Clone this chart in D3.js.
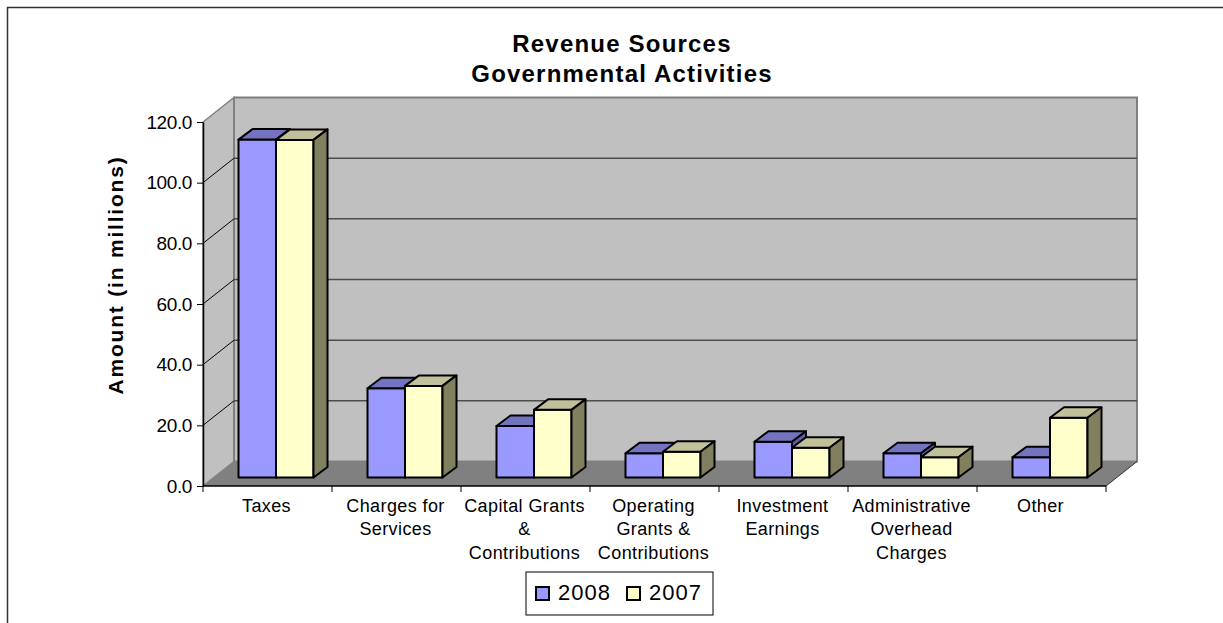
<!DOCTYPE html>
<html>
<head>
<meta charset="utf-8">
<script src="https://cdn.jsdelivr.net/npm/d3@7/dist/d3.min.js"></script>
<style>
  html, body { margin: 0; padding: 0; background: #fff; }
  svg { display: block; font-family: "Liberation Sans", Arial, sans-serif; }
</style>
</head>
<body>
<script>
// Revenue sources, governmental activities (amounts in millions)
const categories = [
  "Taxes",
  "Charges for\nServices",
  "Capital Grants\n&\nContributions",
  "Operating\nGrants &\nContributions",
  "Investment\nEarnings",
  "Administrative\nOverhead\nCharges",
  "Other"
];
const seriesNames = ["2008", "2007"];
const values2008 = [111.4, 29.4, 17.0, 8.0, 11.8, 8.0, 6.7];
const values2007 = [111.3, 30.2, 22.3, 8.5, 9.8, 6.7, 19.7];
const yTicks = [0, 20, 40, 60, 80, 100, 120];

const W = 1223, H = 623;
const svg = d3.select("body").append("svg").attr("width", W).attr("height", H);

// outer chart border
svg.append("rect").attr("x", 7.5).attr("y", 7.5).attr("width", 1240).attr("height", 640)
  .attr("fill", "#fff").attr("stroke", "#333").attr("stroke-width", 1.5);

// plot frame: front axis span and oblique depth of the 3-D box
const left = 203, right = 1106;
const D = { dx: 31, dy: -24.5 };        // wall depth
const F = { dx: 8.5, dy: -8.5 };        // bar front-face offset into the floor
const B = { dx: 14, dy: -10.5 };        // bar depth

const y = d3.scaleLinear().domain([0, 120]).range([486, 122]);
const x = d3.scaleBand().domain(d3.range(categories.length)).range([left, right]);
const xs = d3.scaleBand().domain(seriesNames).range([0, x.bandwidth()]).paddingOuter(0.72);

const fills = {
  "2008": { front: "#9999ff", top: "#7373c0", side: "#5c5ca3" },
  "2007": { front: "#ffffcc", top: "#c0c09a", side: "#80805f" }
};

const y0 = y(0), yTop = y(120);

// side wall
svg.append("path")
  .attr("d", `M${left},${y0}L${left},${yTop}L${left + D.dx},${yTop + D.dy}L${left + D.dx},${y0 + D.dy}Z`)
  .attr("fill", "#c0c0c0").attr("stroke", "#808080").attr("stroke-width", 1.5);

// back wall
svg.append("rect")
  .attr("x", left + D.dx).attr("y", yTop + D.dy)
  .attr("width", right - left).attr("height", y0 - yTop)
  .attr("fill", "#c0c0c0").attr("stroke", "#808080").attr("stroke-width", 2);

// gridlines on back wall and side wall
const inner = yTicks.filter(t => t > 0 && t < 120);
svg.append("g").selectAll("line").data(inner).join("line")
  .attr("x1", left + D.dx).attr("x2", right + D.dx)
  .attr("y1", d => y(d) + D.dy).attr("y2", d => y(d) + D.dy)
  .attr("stroke", "#4d4d4d").attr("stroke-width", 1.5);
svg.append("g").selectAll("line").data(inner).join("line")
  .attr("x1", left).attr("x2", left + D.dx)
  .attr("y1", d => y(d)).attr("y2", d => y(d) + D.dy)
  .attr("stroke", "#000").attr("stroke-width", 1);

// floor
svg.append("path")
  .attr("d", `M${left},${y0}L${right},${y0}L${right + D.dx},${y0 + D.dy}L${left + D.dx},${y0 + D.dy}Z`)
  .attr("fill", "#808080");
svg.append("line")
  .attr("x1", right).attr("y1", y0).attr("x2", right + D.dx).attr("y2", y0 + D.dy)
  .attr("stroke", "#333").attr("stroke-width", 1);

// bars
const data = categories.map((c, i) => ({
  i,
  items: [
    { s: "2008", v: values2008[i] },
    { s: "2007", v: values2007[i] }
  ]
}));
const barG = svg.append("g").attr("stroke", "#000").attr("stroke-width", 2).attr("stroke-linejoin", "round");
data.forEach(cat => {
  cat.items.forEach(it => {
    const bx = x(cat.i) + xs(it.s) + F.dx;
    const bw = xs.bandwidth();
    const top = y(it.v) + F.dy;
    const bot = y(0) + F.dy;
    const g = barG.append("g");
    g.append("rect").attr("x", bx).attr("y", top).attr("width", bw).attr("height", bot - top)
      .attr("fill", fills[it.s].front);
    g.append("path")
      .attr("d", `M${bx},${top}L${bx + bw},${top}L${bx + bw + B.dx},${top + B.dy}L${bx + B.dx},${top + B.dy}Z`)
      .attr("fill", fills[it.s].top);
    g.append("path")
      .attr("d", `M${bx + bw},${top}L${bx + bw + B.dx},${top + B.dy}L${bx + bw + B.dx},${bot + B.dy}L${bx + bw},${bot}Z`)
      .attr("fill", fills[it.s].side);
  });
});

// value axis
const yAxis = svg.append("g").attr("transform", `translate(${left},0)`)
  .call(d3.axisLeft(y).tickValues(yTicks).tickFormat(d3.format(".1f")).tickSize(6).tickSizeOuter(0).tickPadding(5));
yAxis.select(".domain").attr("stroke", "#000").attr("stroke-width", 1.5);
yAxis.selectAll(".tick line").attr("stroke", "#000").attr("stroke-width", 1);
yAxis.selectAll(".tick text").attr("font-size", 19).attr("letter-spacing", -0.4).attr("fill", "#000")
  .attr("font-family", "'Liberation Sans', Arial, sans-serif");

// category axis
const bounds = d3.range(categories.length).map(i => x(i)).concat([right]);
svg.append("line").attr("x1", left).attr("x2", right).attr("y1", y0).attr("y2", y0)
  .attr("stroke", "#000").attr("stroke-width", 1.5);
svg.append("g").selectAll("line").data(bounds).join("line")
  .attr("x1", d => d).attr("x2", d => d).attr("y1", y0).attr("y2", y0 + 6)
  .attr("stroke", "#000").attr("stroke-width", 1);

const labels = svg.append("g").attr("font-size", 18).attr("letter-spacing", 0.4)
  .attr("text-anchor", "middle").attr("fill", "#000");
categories.forEach((c, i) => {
  const t = labels.append("text").attr("x", x(i) + x.bandwidth() / 2 - 1).attr("y", 511.5);
  c.split("\n").forEach((line, k) => {
    t.append("tspan").attr("x", x(i) + x.bandwidth() / 2 - 1).attr("dy", k === 0 ? 0 : 23.7).text(line);
  });
});

// titles
const title = svg.append("text").attr("text-anchor", "middle").attr("font-weight", "bold")
  .attr("font-size", 24).attr("letter-spacing", 1.2).attr("fill", "#000");
title.append("tspan").attr("x", 622).attr("y", 52).text("Revenue Sources");
title.append("tspan").attr("x", 622).attr("y", 82).text("Governmental Activities");

svg.append("text").attr("transform", "translate(123,275) rotate(-90)")
  .attr("text-anchor", "middle").attr("font-weight", "bold").attr("font-size", 21)
  .attr("letter-spacing", 1.8).attr("fill", "#000").text("Amount (in millions)");

// legend
const lg = svg.append("g");
lg.append("rect").attr("x", 526).attr("y", 572).attr("width", 187).attr("height", 43)
  .attr("fill", "#fff").attr("stroke", "#000").attr("stroke-width", 1);
const lx = [536, 627];
seriesNames.forEach((s, k) => {
  lg.append("rect").attr("x", lx[k]).attr("y", 587).attr("width", 13).attr("height", 13)
    .attr("fill", fills[s].front).attr("stroke", "#000").attr("stroke-width", 2);
  lg.append("text").attr("x", lx[k] + 22).attr("y", 600).attr("font-size", 22)
    .attr("letter-spacing", 1).attr("fill", "#000").text(s);
});
</script>
</body>
</html>
